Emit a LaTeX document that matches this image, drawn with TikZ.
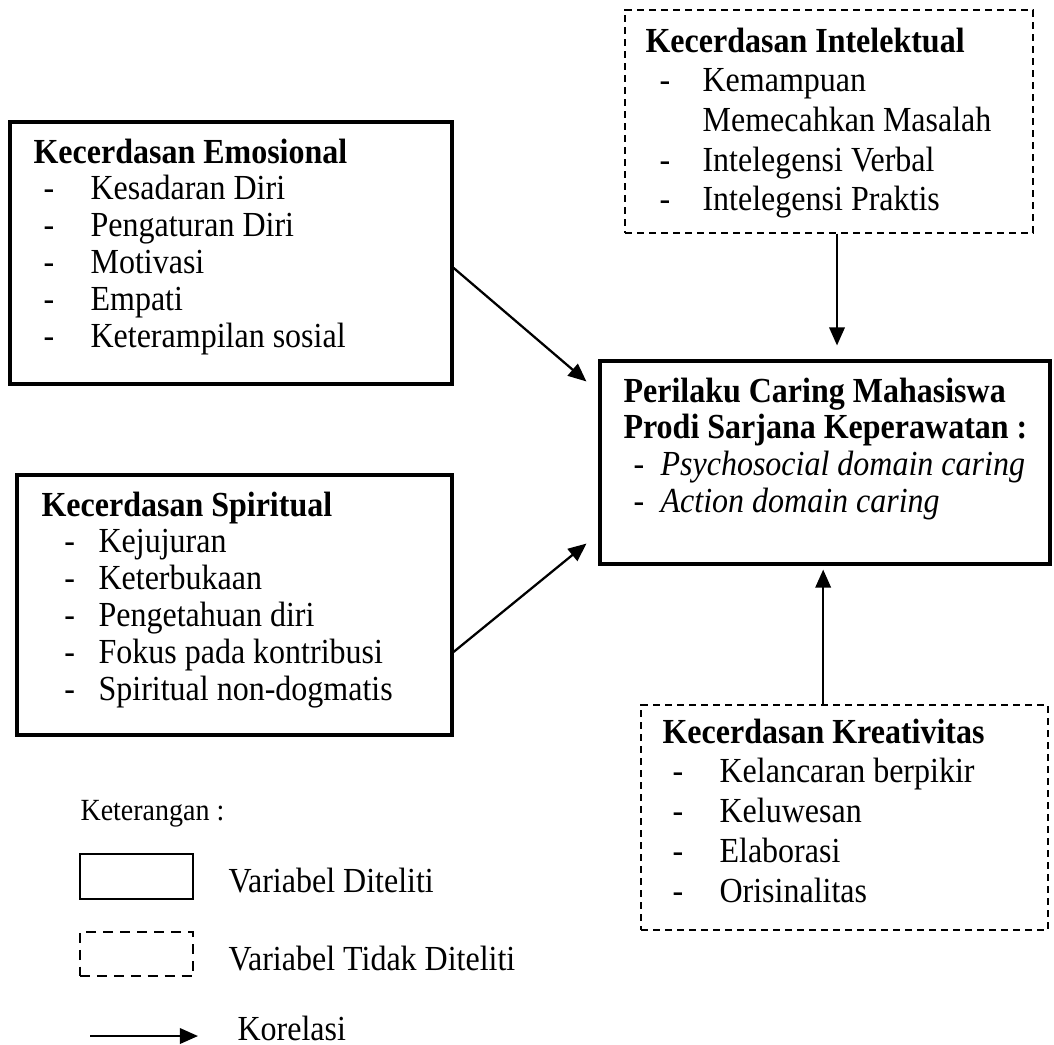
\documentclass[tikz,border=0pt]{standalone}
\usepackage{graphicx}
\usepackage{fontspec}
\setmainfont{Liberation Serif}
\usetikzlibrary{arrows.meta}

\newcommand{\butir}[2][3.75pt]{\makebox[21.4pt][l]{\hspace*{#1}-}#2}
\newcommand{\butirmiring}[1]{\makebox[13.9pt][l]{\hspace*{3.75pt}-}\textit{#1}}
\newcommand{\tinggi}[1]{\scalebox{1}[1.1]{#1}}
\newcommand{\daftar}[1]{\tinggi{\begin{tabular}[t]{@{}l@{}}#1\end{tabular}}}

\begin{document}
\begin{tikzpicture}[x=0.375pt,y=-0.375pt]
	\tikzstyle{diteliti}=[draw, line width=1.2pt, inner sep=0pt]
	\tikzstyle{takditeliti}=[draw, line width=0.55pt, dash pattern=on 2.7pt off 1.8pt, inner sep=0pt]
	\tikzstyle{isi}=[inner sep=0pt, anchor=base west, font=\fontsize{12}{12.55}\selectfont]
	\tikzstyle{isilonggar}=[isi, font=\fontsize{12}{13.55}\selectfont]
	\tikzset{panah/.style = {-{Triangle[length=6.8pt,width=5.8pt]}, line width=0.85pt}}

	\useasboundingbox (0,0) rectangle (1054,1044);

	% kotak variabel
	\node[diteliti, minimum width=165.75pt, minimum height=98.25pt](emosional) at (231,253) {};
	\node[isi](emosionalteks) at (33,163) {\daftar{
		\textbf{Kecerdasan Emosional}\\
		\butir{Kesadaran Diri}\\
		\butir{Pengaturan Diri}\\
		\butir{Motivasi}\\
		\butir{Empati}\\
		\butir{Keterampilan sosial}}};

	\node[diteliti, minimum width=163.1pt, minimum height=97.5pt](spiritual) at (234.5,605) {};
	\node[isi](spiritualteks) at (41,516) {\daftar{
		\textbf{Kecerdasan Spiritual}\\
		\butir[8.6pt]{Kejujuran}\\
		\butir[8.6pt]{Keterbukaan}\\
		\butir[8.6pt]{Pengetahuan diri}\\
		\butir[8.6pt]{Fokus pada kontribusi}\\
		\butir[8.6pt]{Spiritual non-dogmatis}}};

	\node[takditeliti, minimum width=153pt, minimum height=83.6pt](intelektual) at (829,121.5) {};
	\node[isilonggar](intelektualteks) at (645,52) {\daftar{
		\textbf{Kecerdasan Intelektual}\\
		\butir[5.25pt]{Kemampuan}\\
		\hspace*{21.4pt}Memecahkan Masalah\\
		\butir[5.25pt]{Intelegensi Verbal}\\
		\butir[5.25pt]{Intelegensi Praktis}}};

	\node[diteliti, minimum width=168.75pt, minimum height=76.1pt](perilaku) at (825,462.5) {};
	\node[isi](perilakuteks) at (623,402) {\daftar{
		\textbf{Perilaku Caring Mahasiswa}\\
		\textbf{Prodi Sarjana Keperawatan :}\\
		\butirmiring{Psychosocial domain caring}\\
		\butirmiring{Action domain caring}}};

	\node[takditeliti, minimum width=152.6pt, minimum height=84.4pt](kreativitas) at (844.5,817.5) {};
	\node[isilonggar](kreativitasteks) at (662,743) {\daftar{
		\textbf{Kecerdasan Kreativitas}\\
		\butir{Kelancaran berpikir}\\
		\butir{Keluwesan}\\
		\butir{Elaborasi}\\
		\butir{Orisinalitas}}};

	% hubungan
	\draw[panah]([yshift=-5.6pt]emosional.east) -- ([xshift=-4.5pt,yshift=-8.25pt]perilaku.north west);
	\draw[panah]([yshift=-17.6pt]spiritual.east) -- ([xshift=-4.5pt,yshift=8.25pt]perilaku.south west);
	\draw[panah, shorten >=5.25pt]([xshift=3pt]intelektual.south) -- ([xshift=3pt]intelektual.south |- perilaku.north);
	\draw[panah, shorten >=1.5pt]([xshift=-8pt]kreativitas.north) -- ([xshift=-8pt]kreativitas.north |- perilaku.south);

	% keterangan
	\node[isi, font=\fontsize{10.5}{12}\selectfont](keterangan) at (80,820) {\tinggi{Keterangan :}};
	\node[diteliti, line width=0.75pt, minimum width=42.4pt, minimum height=16.9pt](legditeliti) at (136.5,876.5) {};
	\node[isi](legditelititeks) at (228,892) {\tinggi{Variabel Diteliti}};
	\node[takditeliti, line width=0.75pt, dash pattern=on 3.75pt off 2.6pt, minimum width=42.4pt, minimum height=16.5pt](legtakditeliti) at (136.5,954) {};
	\node[isi](legtakditelititeks) at (228,970) {\tinggi{Variabel Tidak Diteliti}};
	\coordinate (korawal) at (90,1036);
	\coordinate (korakhir) at (198,1036);
	\draw[panah](korawal) -- (korakhir);
	\node[isi](korelasi) at (237,1040) {\tinggi{Korelasi}};
\end{tikzpicture}
\end{document}
